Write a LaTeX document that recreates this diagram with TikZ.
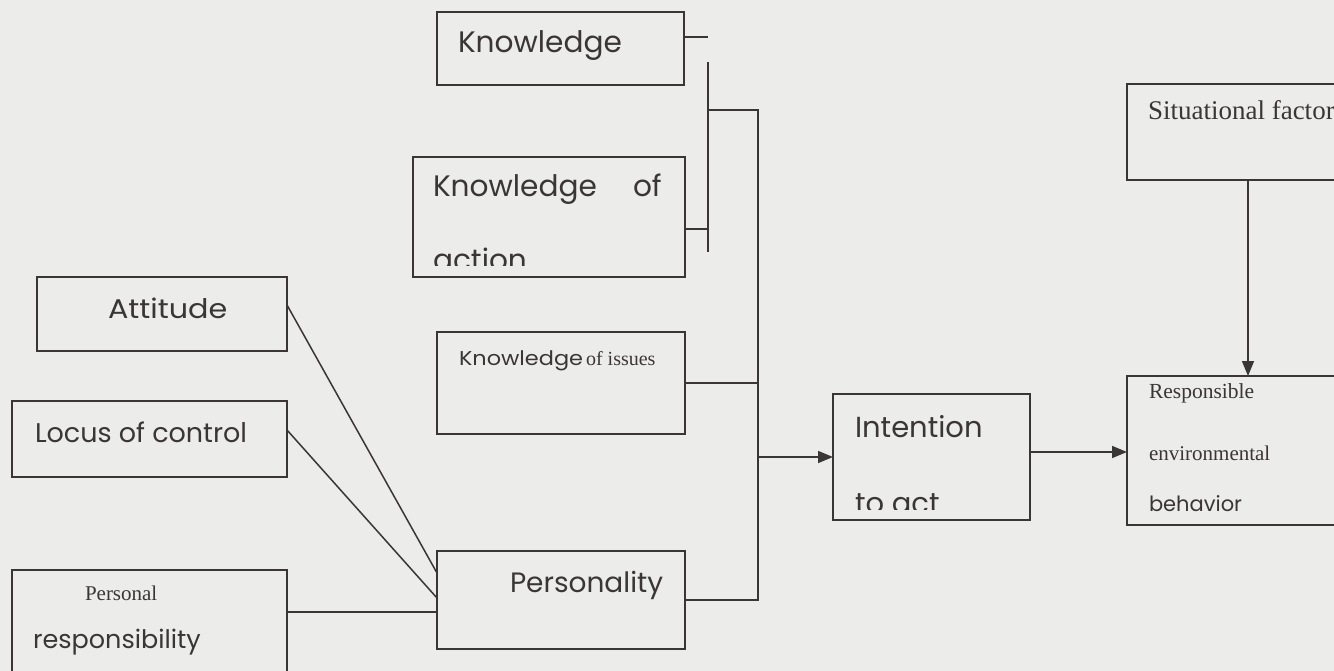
\documentclass[tikz,border=0pt]{standalone}
\usepackage{fontspec}
\setmainfont{Liberation Serif}
\newfontfamily\gothic{Poppins}
\newfontfamily\gothicw[FakeStretch=1.12]{Poppins}
\usetikzlibrary{arrows.meta}
\definecolor{bg}{RGB}{236,236,234}
\definecolor{ink}{RGB}{58,54,54}
\begin{document}
\begin{tikzpicture}[x=1pt,y=-1pt,
  rect/.style={draw=ink,line width=1.6pt,inner sep=0pt,outer sep=0pt},
  lbl/.style={anchor=base west,inner sep=0pt,outer sep=0pt,text=ink},
  conn/.style={draw=ink,line width=1.5pt},
  arr/.style={conn,-{Triangle[length=15pt,width=12pt]}},
  bigsans/.style={font=\gothic\fontsize{29.6}{31}\selectfont},
  midsans/.style={font=\gothic\fontsize{27}{29}\selectfont}]
\fill[bg] (0,0) rectangle (1334,671);
\clip (0,0) rectangle (1334,671);

% boxes
\node[rect,minimum width=247pt,minimum height=73pt] (know) at (560.5,48.5) {};
\node[rect,minimum width=272pt,minimum height=120pt] (knowact) at (549,217) {};
\node[rect,minimum width=248pt,minimum height=102pt] (knowiss) at (561,383) {};
\node[rect,minimum width=250pt,minimum height=74pt] (att) at (162,314) {};
\node[rect,minimum width=275pt,minimum height=76pt] (locus) at (149.5,439) {};
\node[rect,minimum width=275pt,minimum height=122pt] (persresp) at (149.5,631) {};
\node[rect,minimum width=248pt,minimum height=98pt] (pers) at (561,600) {};
\node[rect,minimum width=197pt,minimum height=126pt] (intent) at (931.5,457) {};
\node[rect,minimum width=242pt,minimum height=96pt] (situ) at (1248,132) {};
\node[rect,minimum width=242pt,minimum height=149pt] (resp) at (1248,450.5) {};

% texts
\node[lbl,bigsans] (t-know) at (458,53) {Knowledge};
\node[lbl,bigsans] (t-knowact1) at (433,197) {Knowledge};
\node[lbl,bigsans] (t-knowact2) at (633,197) {of};
\begin{scope}
  \clip (413,157) rectangle (685,266);
  \node[lbl,bigsans] (t-knowact3) at (433,271) {action};
\end{scope}
\node[lbl] (t-knowiss) at (459,365) {{\gothicw\fontsize{20}{22}\selectfont Knowledge}\hspace{3pt}{\fontsize{20}{22}\selectfont of issues}};
\node[lbl,font=\gothicw\fontsize{27}{29}\selectfont] (t-att) at (108,318) {Attitude};
\node[lbl,midsans] (t-locus) at (35,442) {Locus of control};
\node[lbl,font=\fontsize{21}{23}\selectfont] (t-persresp1) at (85,600) {Personal};
\node[lbl,font=\gothic\fontsize{25.5}{27}\selectfont] (t-persresp2) at (33,648) {responsibility};
\node[lbl,font=\gothic\fontsize{28}{30}\selectfont] (t-pers) at (510,592) {Personality};
\node[lbl,font=\gothic\fontsize{29}{31}\selectfont] (t-intent1) at (855,437) {Intention};
\begin{scope}
  \clip (833,394) rectangle (1030,509);
  \node[lbl,font=\gothic\fontsize{29}{31}\selectfont] (t-intent2) at (855,513) {to act};
\end{scope}
\node[lbl,font=\fontsize{27}{29}\selectfont] (t-situ) at (1148,120) {Situational factor};
\node[lbl,font=\fontsize{21.5}{23}\selectfont] (t-resp1) at (1149,398) {Responsible};
\node[lbl,font=\fontsize{21}{23}\selectfont] (t-resp2) at (1149,460) {environmental};
\node[lbl,font=\gothic\fontsize{21}{23}\selectfont] (t-resp3) at (1149,511) {behavior};

% connectors
\coordinate (j1) at (708,37);
\coordinate (vt) at (708,62);
\coordinate (vb) at (708,252);
\coordinate (j2) at (708,229);
\coordinate (j3) at (708,110);
\coordinate (m1) at (758,110);
\coordinate (a2) at (0,452);
\draw[conn] (know.east |- j1) -- (j1);
\draw[conn] (vt) -- (vb);
\draw[conn] (knowact.east |- j2) -- (j2);
\draw[conn] (j3) -- (m1) |- (pers.east);
\draw[conn] (knowiss.east) -- (knowiss.east -| m1);
\draw[arr] (m1 |- intent.west) -- (intent.west);
\draw[arr] (intent.east |- a2) -- (resp.west |- a2);
\draw[arr] (situ.south) -- (resp.north);
\draw[conn] (att.east |- 0,305) -- (pers.west |- 0,573);
\draw[conn] (locus.east |- 0,430) -- (pers.west |- 0,598);
\draw[conn] (persresp.east |- 0,612) -- (pers.west |- 0,612);
\end{tikzpicture}
\end{document}
